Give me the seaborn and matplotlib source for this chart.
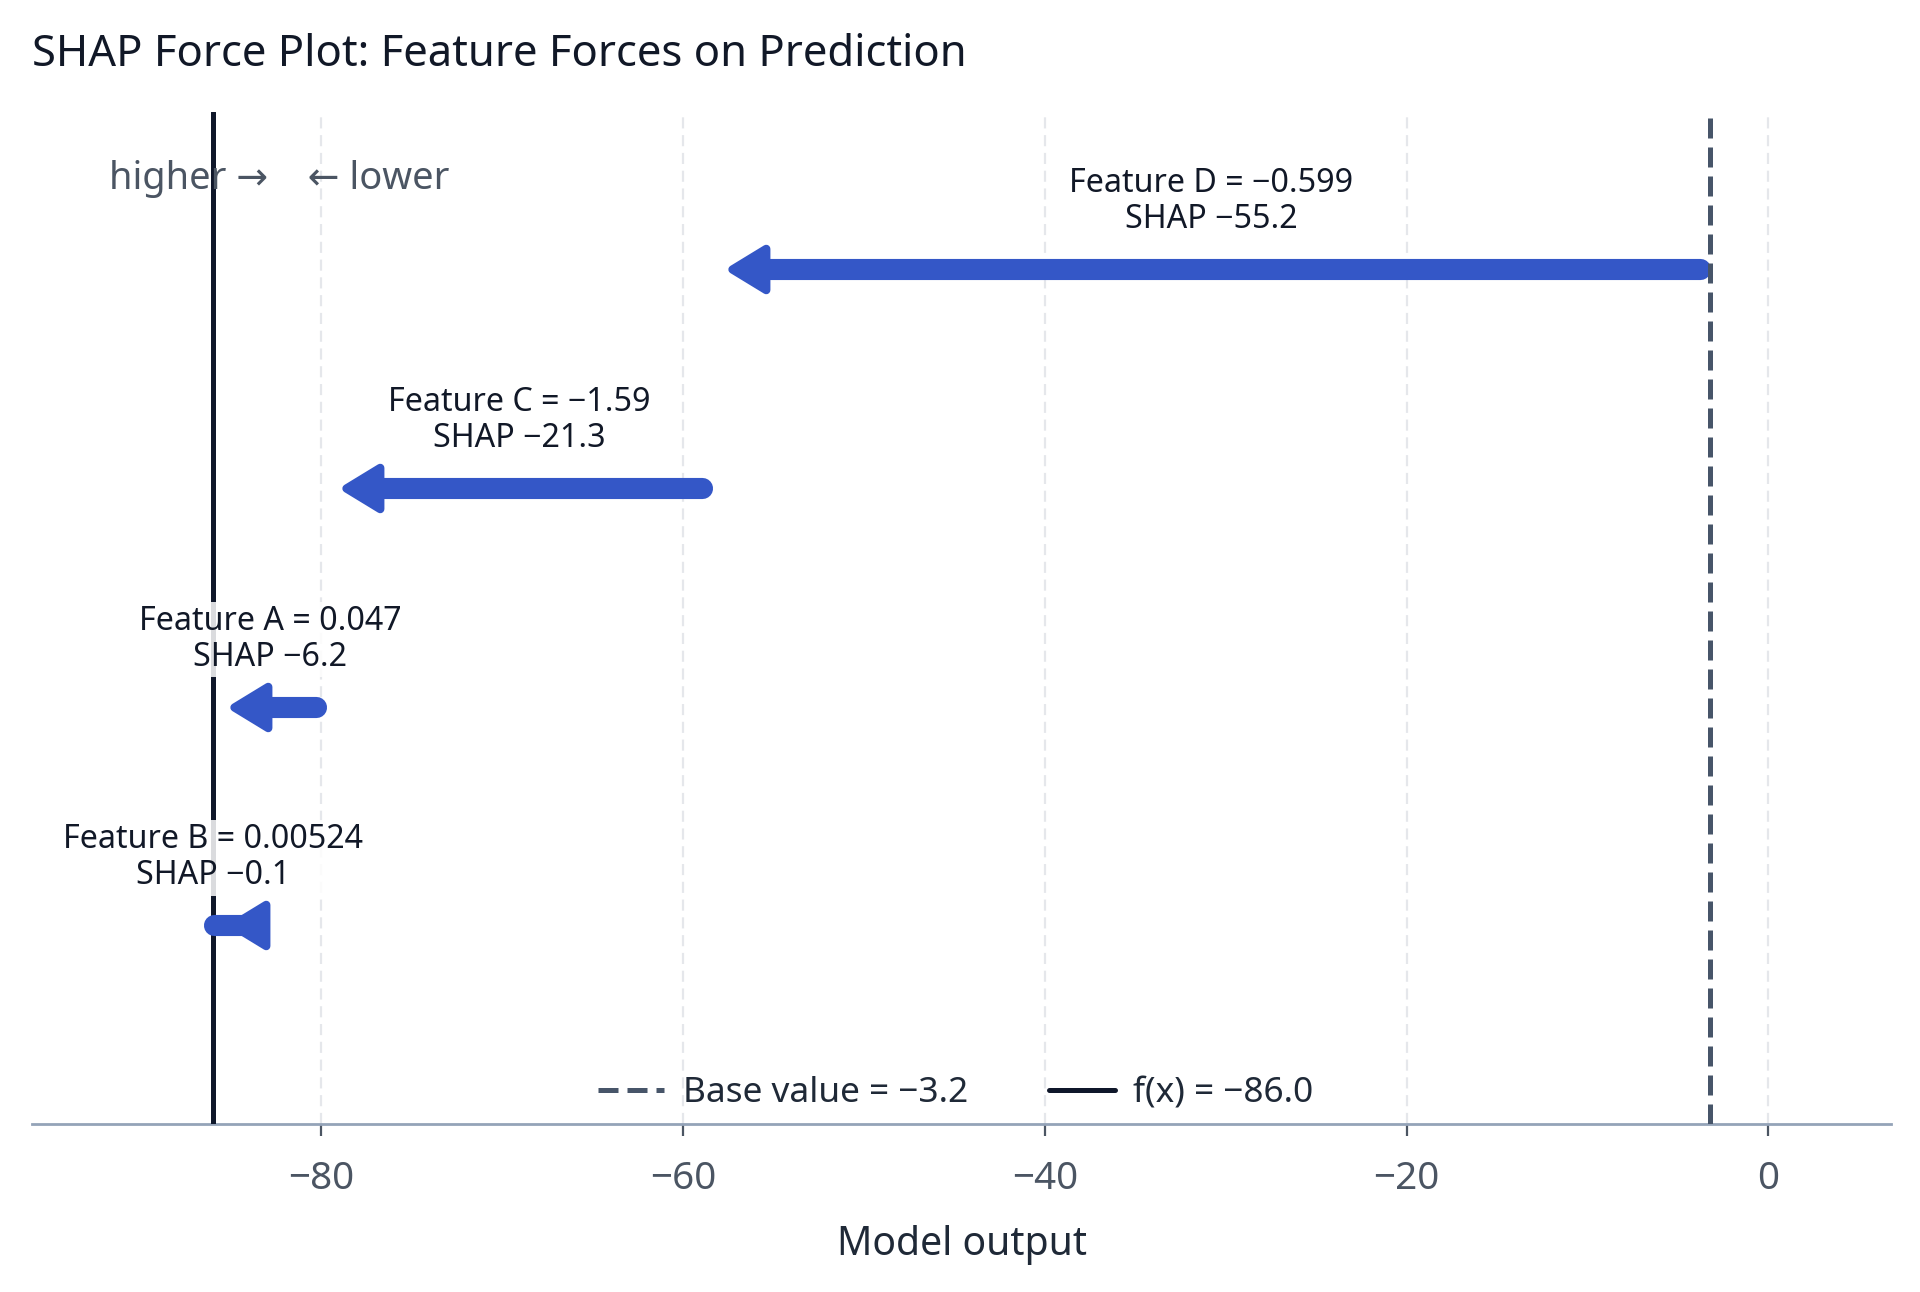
import numpy as np
import pandas as pd
import seaborn as sns
import matplotlib.pyplot as plt
from matplotlib.markers import MarkerStyle
from matplotlib.path import Path
from matplotlib.transforms import Affine2D
from matplotlib.ticker import MultipleLocator

# values
features = ['Feature D', 'Feature C', 'Feature A', 'Feature B']
feature_values = [-0.599, -1.59, 0.047, 0.00524]
shap_values = [-55.2, -21.3, -6.2, -0.1]
base_value = -3.2
fx_value = -86.0

sns.set_theme(style='white')
plt.rcParams['font.family'] = ['Noto Sans', 'DejaVu Sans']
plt.rcParams['axes.unicode_minus'] = True

BLUE = '#3457c7'
DARK = '#111827'
SLATE = '#4b5563'


def minus(s):
    return s.replace('-', '\u2212')


df = pd.DataFrame({'feature': features, 'value': feature_values, 'shap': shap_values})
df['end'] = base_value + df['shap'].cumsum()
df['start'] = df['end'] - df['shap']
df['mid'] = (df['start'] + df['end']) / 2
df['y'] = np.arange(len(df))[::-1]

fig = plt.figure(figsize=(9.6, 6.46), dpi=200)
ax = fig.add_axes([0.0165, 0.130, 0.9686, 0.7833])

# arrows: thick shaft + rounded triangular head (data-unit offsets)
standoff = 1.1
shaft_in = 1.0
cap_r = 0.57
head = Path([(0, 0), (0.82, -0.5), (0.82, 0.5), (0, 0)], closed=True)
for row in df.itertuples():
    d = np.sign(row.shap) if row.shap != 0 else -1
    tip = row.end - d * standoff
    shaft_end = tip - d * shaft_in
    inset = cap_r if abs(row.shap) > standoff + cap_r else 0.0
    ax.plot([row.start + d * inset, shaft_end], [row.y, row.y], color=BLUE, lw=7.6,
            solid_capstyle='round', zorder=4)
    hp = head if d < 0 else head.transformed(Affine2D().scale(-1, 1))
    ax.plot([tip], [row.y], ls='none', marker=MarkerStyle(hp, joinstyle='round'),
            ms=24.3, mfc=BLUE, mec=BLUE, mew=3, zorder=5)
    label = minus(f"{row.feature} = {row.value:.3g}\nSHAP {row.shap:.1f}")
    ax.annotate(label, xy=(row.mid, row.y), xytext=(0, 11.8), textcoords='offset points',
                ha='center', va='bottom', fontsize=11.6, color=DARK, zorder=7,
                linespacing=1.12,
                bbox=dict(boxstyle='square,pad=0.1', fc='white', ec='none', alpha=0.85))

ax.axvline(fx_value, color='#0f172a', lw=1.8, zorder=3,
           label=minus(f'f(x) = {fx_value:.1f}'))
ax.axvline(base_value, color='#475569', lw=1.8, ls=(0, (4, 1.8)), zorder=6,
           label=minus(f'Base value = {base_value}'))

ax.annotate('higher \u2192    \u2190 lower', xy=(fx_value, 0.934),
            xycoords=('data', 'axes fraction'), xytext=(23.8, 0), textcoords='offset points',
            ha='center', va='center', fontsize=13.7, color=SLATE)

ax.set_xlim(fx_value - 10, base_value + 10)
ax.set_ylim(-0.909, 3.718)
ax.xaxis.set_major_locator(MultipleLocator(20))
ax.set_yticks([])
ax.grid(axis='x', color='#e5e7eb', lw=0.8, ls=(0, (5, 3)))
ax.set_axisbelow(True)
for side in ['left', 'top', 'right']:
    ax.spines[side].set_visible(False)
ax.spines['bottom'].set_color('#94a3b8')
ax.spines['bottom'].set_linewidth(1.0)
ax.tick_params(axis='x', direction='out', bottom=True, length=4.3, width=0.8, color=SLATE,
               labelsize=13.9, labelcolor=SLATE, pad=8.5)
ax.set_xlabel('Model output', fontsize=14.1, color='#1f2937', labelpad=10)

handles, labels = ax.get_legend_handles_labels()
ax.legend(handles[::-1], labels[::-1], loc='lower center', bbox_to_anchor=(0.497, 0.0137),
          ncol=2, frameon=False, fontsize=12.7, labelcolor='#1f2937', handlelength=1.86,
          handletextpad=0.53, columnspacing=2.3, borderpad=0, borderaxespad=0)

fig.text(0.0166, 0.949, 'SHAP Force Plot: Feature Forces on Prediction', fontsize=15.7,
         color=DARK, va='baseline', ha='left')

fig.savefig('out.png', dpi=200, facecolor='white')
